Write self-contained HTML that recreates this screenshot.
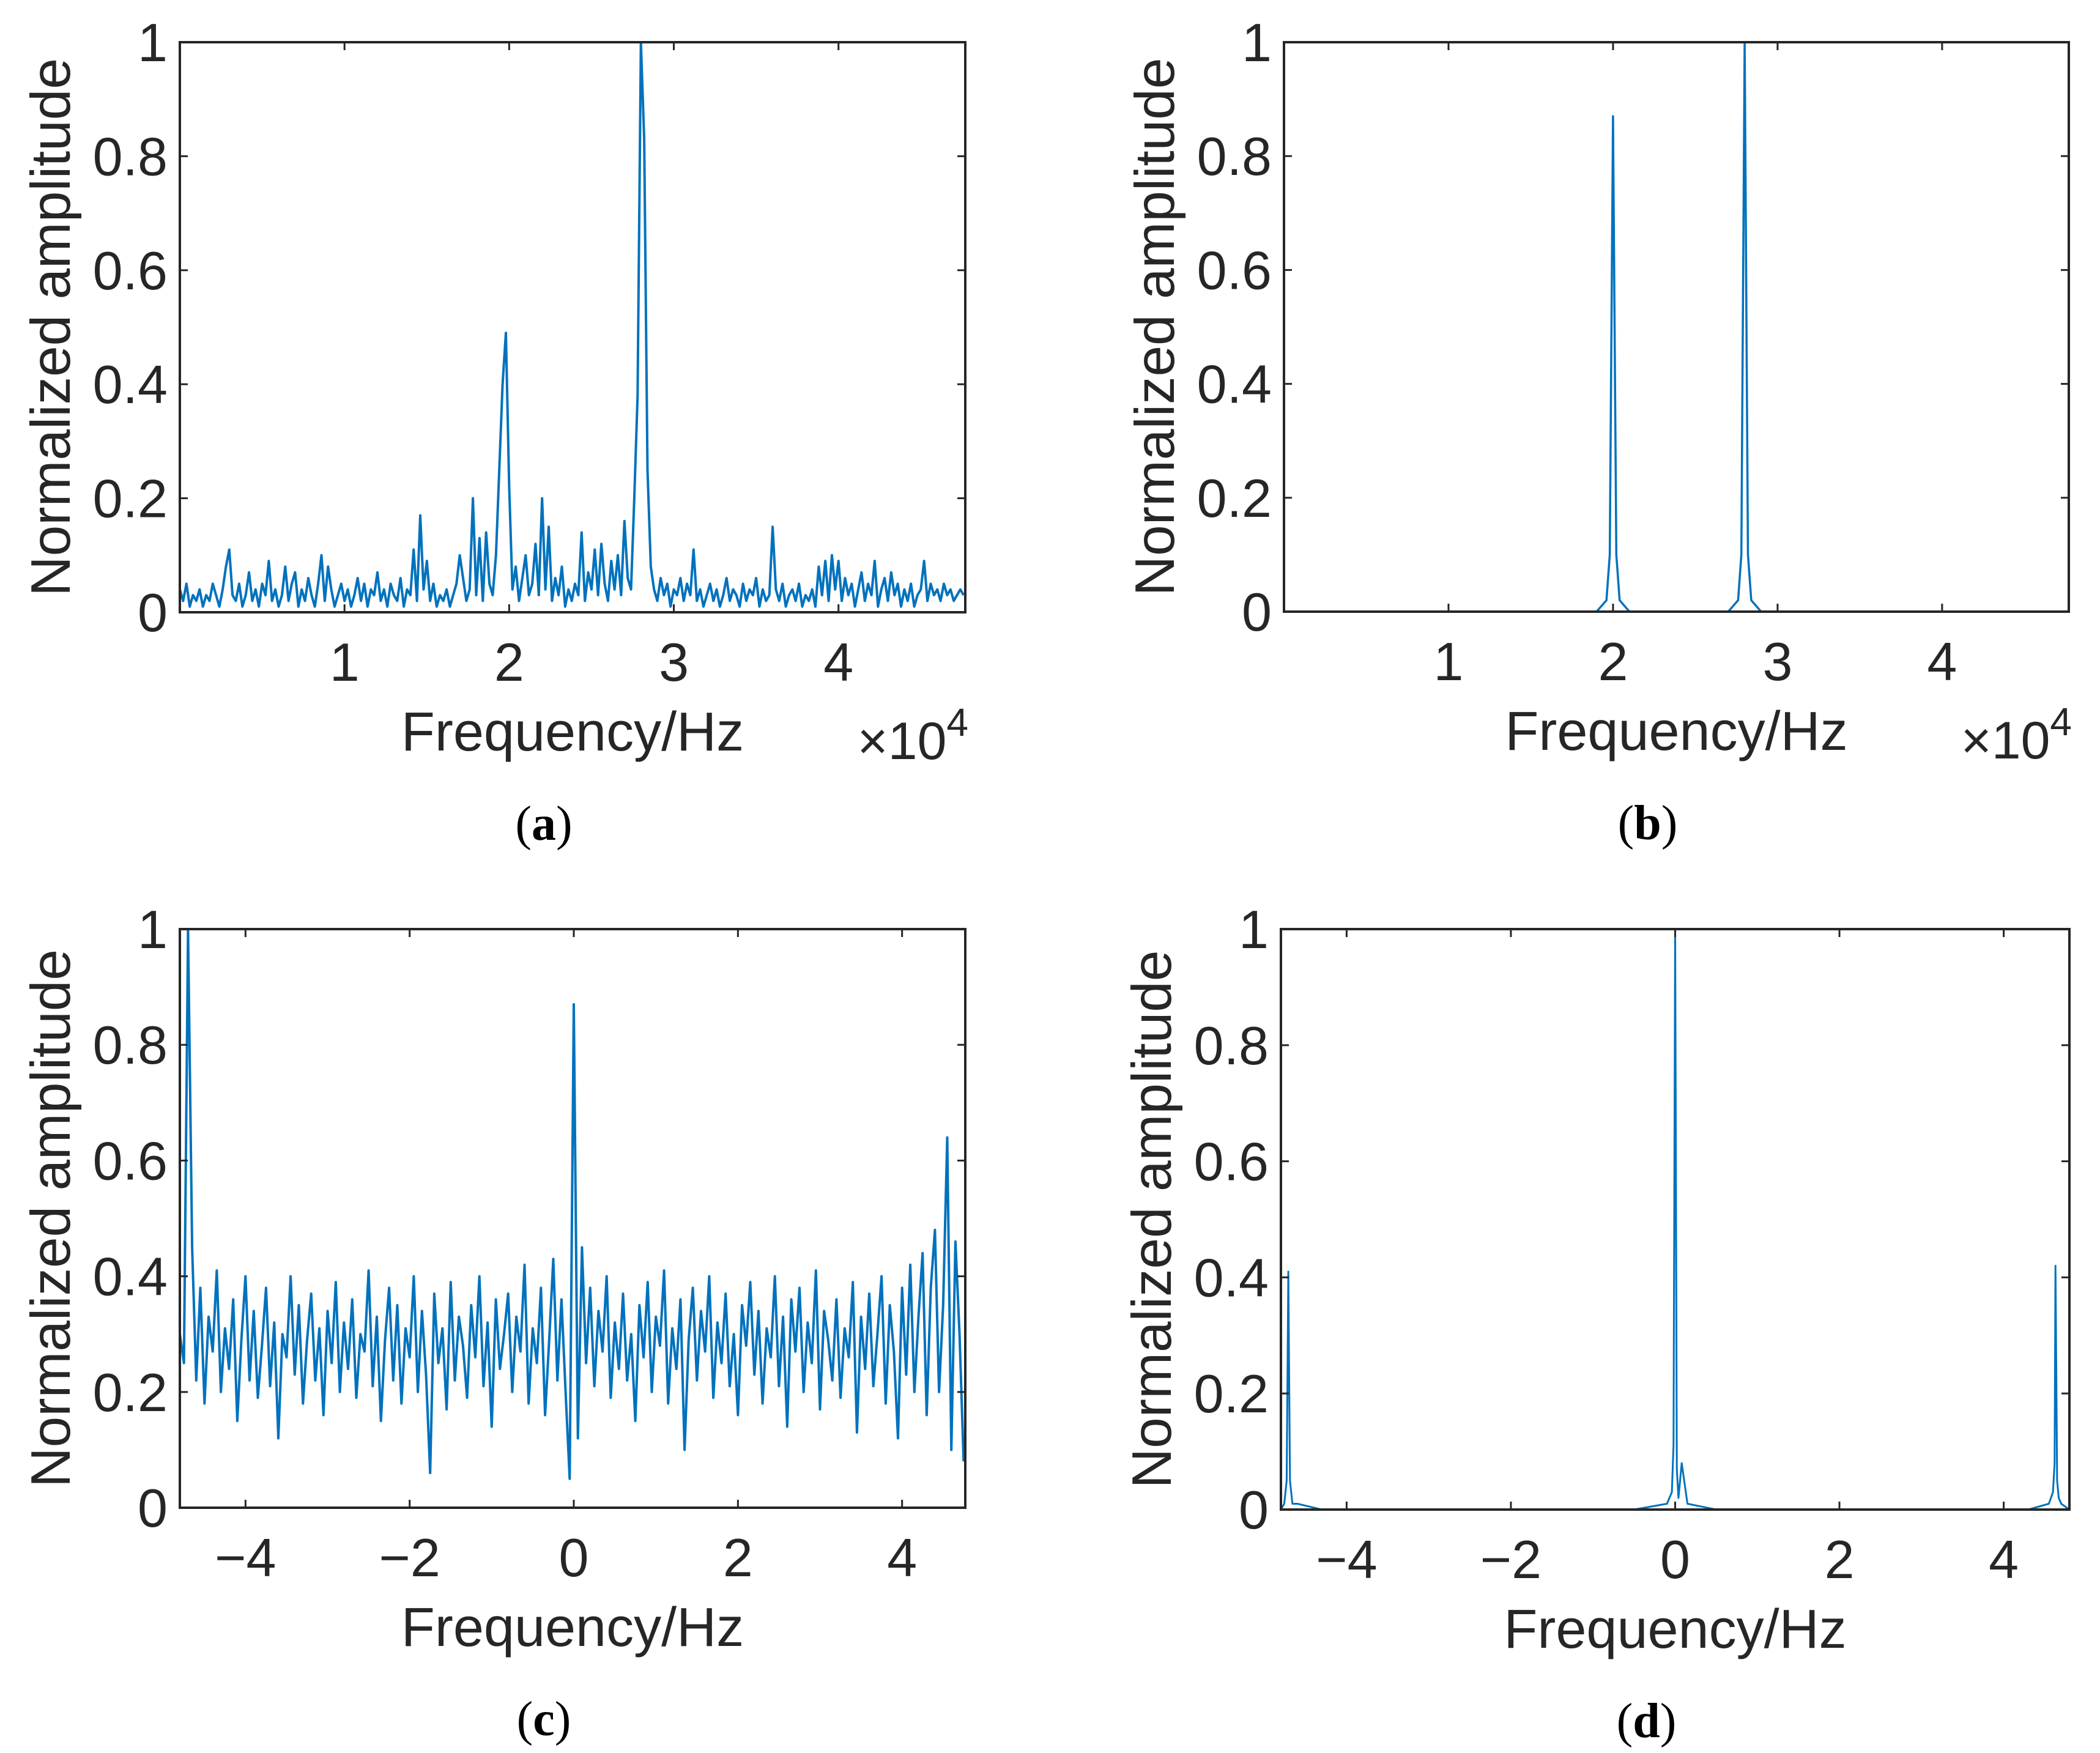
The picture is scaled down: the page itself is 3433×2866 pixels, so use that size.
<!DOCTYPE html>
<html><head><meta charset="utf-8"><style>
html,body{margin:0;padding:0;background:#fff;}
svg{display:block;}
text{font-family:"Liberation Sans",Arial,sans-serif;fill:#262626;}
.cap{font-family:"Liberation Serif",serif;fill:#000;}
</style></head><body>
<svg id="fig" width="3433" height="2866" viewBox="0 0 3433 2866" xmlns="http://www.w3.org/2000/svg"></svg>
<script>
// Panel (a) amplitudes, frequency step 0.02 (x10^4 Hz) starting at 0
const ampA = [0.04,0.02,0.05,0.01,0.03,0.02,0.04,0.01,0.03,0.02,
0.05,0.03,0.01,0.04,0.08,0.11,0.03,0.02,0.05,0.01,
0.03,0.07,0.02,0.04,0.01,0.05,0.03,0.09,0.02,0.04,
0.01,0.03,0.08,0.02,0.05,0.07,0.01,0.04,0.02,0.06,
0.03,0.01,0.05,0.10,0.02,0.08,0.04,0.01,0.03,0.05,
0.02,0.04,0.01,0.03,0.06,0.02,0.05,0.01,0.04,0.03,
0.07,0.02,0.04,0.01,0.05,0.03,0.02,0.06,0.01,0.04,
0.03,0.11,0.02,0.17,0.04,0.09,0.02,0.05,0.01,0.03,
0.02,0.04,0.01,0.03,0.05,0.10,0.06,0.02,0.04,0.20,
0.03,0.13,0.02,0.14,0.05,0.03,0.10,0.25,0.40,0.49,
0.22,0.04,0.08,0.02,0.06,0.10,0.03,0.05,0.12,0.03,
0.20,0.04,0.15,0.02,0.06,0.03,0.08,0.01,0.04,0.02,
0.05,0.03,0.14,0.02,0.07,0.04,0.11,0.03,0.12,0.05,
0.02,0.09,0.04,0.10,0.03,0.16,0.06,0.04,0.20,0.38,
1.00,0.83,0.25,0.08,0.04,0.02,0.06,0.03,0.05,0.01,
0.04,0.03,0.06,0.02,0.05,0.03,0.11,0.02,0.04,0.01,
0.03,0.05,0.02,0.04,0.01,0.03,0.06,0.02,0.04,0.03,
0.01,0.05,0.02,0.04,0.03,0.06,0.01,0.04,0.02,0.03,
0.15,0.04,0.02,0.05,0.01,0.03,0.04,0.02,0.05,0.01,
0.03,0.02,0.04,0.01,0.08,0.03,0.09,0.02,0.10,0.04,
0.09,0.02,0.06,0.03,0.05,0.01,0.04,0.07,0.02,0.05,
0.03,0.09,0.01,0.04,0.06,0.02,0.07,0.03,0.05,0.01,
0.04,0.02,0.05,0.01,0.03,0.04,0.09,0.02,0.05,0.03,
0.04,0.02,0.05,0.03,0.04,0.02,0.03,0.04,0.03];
const freqStartA = 0, freqStepA = 0.02;
// Panel (b)
const freqB = [0,1.9,1.96,1.98,2.0,2.02,2.04,2.1,2.7,2.76,2.78,2.8,2.82,2.84,2.9,4.77];
const ampB  = [0,0,0.02,0.10,0.87,0.10,0.02,0,0,0.02,0.10,1.0,0.10,0.02,0,0];
// Panel (c) amplitudes, frequency step 0.05 starting at -4.8
const ampC = [0.30,0.25,1.00,0.45,0.22,0.38,0.18,0.33,0.27,0.41,
0.20,0.31,0.24,0.36,0.15,0.29,0.40,0.22,0.34,0.19,
0.28,0.38,0.21,0.32,0.12,0.30,0.26,0.40,0.23,0.35,
0.18,0.29,0.37,0.22,0.31,0.16,0.34,0.25,0.39,0.20,
0.32,0.24,0.36,0.19,0.30,0.27,0.41,0.21,0.33,0.15,
0.29,0.38,0.22,0.35,0.18,0.31,0.26,0.40,0.20,0.34,
0.23,0.06,0.37,0.25,0.31,0.17,0.39,0.22,0.33,0.28,
0.19,0.35,0.26,0.40,0.21,0.32,0.14,0.36,0.24,0.30,
0.37,0.20,0.33,0.27,0.42,0.18,0.31,0.25,0.38,0.16,
0.29,0.43,0.22,0.36,0.20,0.05,0.87,0.12,0.45,0.25,
0.38,0.21,0.34,0.27,0.40,0.19,0.32,0.24,0.37,0.22,
0.30,0.15,0.35,0.26,0.39,0.20,0.33,0.28,0.41,0.18,
0.31,0.24,0.36,0.10,0.29,0.38,0.22,0.34,0.27,0.40,
0.19,0.32,0.25,0.37,0.21,0.30,0.16,0.35,0.28,0.39,
0.23,0.34,0.18,0.31,0.26,0.40,0.21,0.33,0.14,0.36,
0.27,0.38,0.20,0.32,0.25,0.41,0.17,0.34,0.29,0.22,
0.36,0.19,0.31,0.26,0.39,0.13,0.33,0.24,0.37,0.21,
0.30,0.40,0.18,0.35,0.27,0.12,0.38,0.23,0.42,0.20,
0.33,0.44,0.16,0.38,0.48,0.20,0.35,0.64,0.10,0.46,
0.30,0.08];
const freqStartC = -4.8, freqStepC = 0.05;
// Panel (d)
const freqD = [-4.8,-4.76,-4.73,-4.71,-4.69,-4.66,-4.6,-4.3,-0.5,-0.1,-0.04,-0.02,0,0.02,0.04,0.08,0.15,0.5,4.3,4.55,4.6,4.62,4.63,4.65,4.67,4.7,4.8];
const ampD  = [0,0.01,0.05,0.41,0.05,0.01,0.01,0,0,0.01,0.03,0.11,1.0,0.07,0.02,0.08,0.01,0,0,0.01,0.03,0.08,0.42,0.05,0.02,0.01,0];
const yTicks = [0,0.2,0.4,0.6,0.8,1];
const yTickLabels = ["0","0.2","0.4","0.6","0.8","1"];
const xTicksAB = [1,2,3,4];
const xTickLabelsAB = ["1","2","3","4"];
const xTicksCD = [-4,-2,0,2,4];
const xTickLabelsCD = ["\u22124","\u22122","0","2","4"];

const NS="http://www.w3.org/2000/svg";
const svg=document.getElementById('fig');
function mk(tag,attrs,parent){const e=document.createElementNS(NS,tag);for(const k in attrs)e.setAttribute(k,attrs[k]);(parent||svg).appendChild(e);return e;}

function panel(id,box,xmin,xmax,xs,ys,xt,xtl,exp,cap,sw){
  const g=mk('g',{});
  
  
  const sx=v=>box.l+(v-xmin)/(xmax-xmin)*(box.r-box.l);
  const sy=v=>box.b-v*(box.b-box.t);
  let d='';
  for(let i=0;i<xs.length;i++){d+=(i?'L':'M')+sx(xs[i]).toFixed(1)+' '+sy(ys[i]).toFixed(1);}
  const p=mk('path',{d:d,fill:'none',stroke:'#0072BD','stroke-width':sw,'stroke-linejoin':'round'},g);
  
  
  const r=mk('rect',{x:box.l,y:box.t,width:box.r-box.l,height:box.b-box.t,fill:'none',stroke:'#262626','stroke-width':4},g);
  
  
  yTicks.forEach((v,i)=>{
    const y=sy(v);
    mk('line',{x1:box.l,y1:y,x2:box.l+13,y2:y,stroke:'#262626','stroke-width':3},g);
    mk('line',{x1:box.r,y1:y,x2:box.r-13,y2:y,stroke:'#262626','stroke-width':3},g);
    const t=mk('text',{x:box.l-20,y:y+31,'text-anchor':'end','font-size':88},g);
    t.textContent=yTickLabels[i];
    
    
  });
  xt.forEach((v,i)=>{
    const x=sx(v);
    mk('line',{x1:x,y1:box.b,x2:x,y2:box.b-13,stroke:'#262626','stroke-width':3},g);
    mk('line',{x1:x,y1:box.t,x2:x,y2:box.t+13,stroke:'#262626','stroke-width':3},g);
    const t=mk('text',{x:x,y:box.b+112,'text-anchor':'middle','font-size':88},g);
    t.textContent=xtl[i];
    
    
  });
  const yl=mk('text',{x:0,y:0,'text-anchor':'middle','font-size':91,transform:`translate(${box.l-180},${(box.t+box.b)/2}) rotate(-90)`},g);
  yl.textContent='Normalized amplitude';
  
  
  const xl=mk('text',{x:(box.l+box.r)/2,y:box.b+226,'text-anchor':'middle','font-size':90},g);
  xl.textContent='Frequency/Hz';
  
  
  if(exp){
    const e=mk('text',{x:box.r+5,y:box.b+240,'text-anchor':'end','font-size':86},g);
    e.innerHTML='\u00d710<tspan dy="-38" font-size="64">4</tspan>';
    
    
  }
  const c=mk('text',{x:(box.l+box.r)/2-47,y:box.b+372,'text-anchor':'middle','font-size':80,'class':'cap'},g);
  c.innerHTML='(<tspan font-weight="bold">'+cap+'</tspan>)';
  
  
}
const xsA=ampA.map((_,i)=>freqStartA+i*freqStepA);
const xsC=ampC.map((_,i)=>freqStartC+i*freqStepC);
panel('a',{l:294,r:1578,t:69,b:1001},0,4.77,xsA,ampA,xTicksAB,xTickLabelsAB,true,'a',4);
panel('b',{l:2099,r:3382,t:69,b:1000},0,4.77,freqB,ampB,xTicksAB,xTickLabelsAB,true,'b',3.5);
panel('c',{l:294,r:1578,t:1519,b:2465},-4.8,4.77,xsC,ampC,xTicksCD,xTickLabelsCD,false,'c',4);
panel('d',{l:2094,r:3383,t:1519,b:2468},-4.8,4.8,freqD,ampD,xTicksCD,xTickLabelsCD,false,'d',3);
</script>
</body></html>
